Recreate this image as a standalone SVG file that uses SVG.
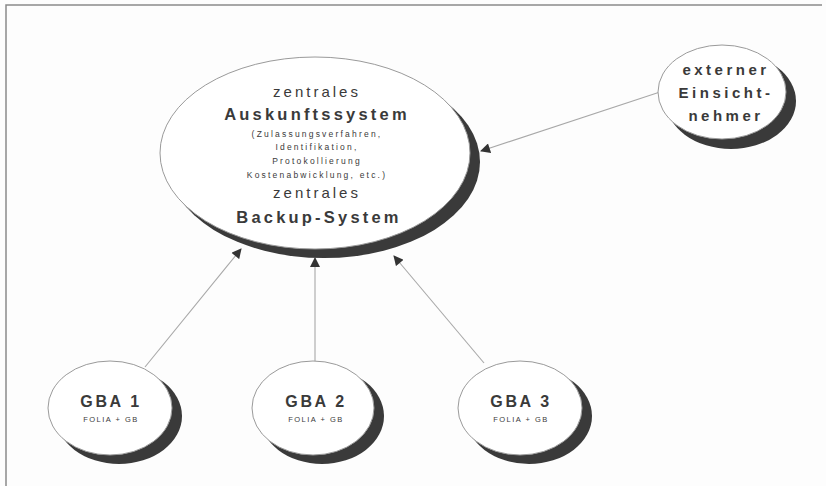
<svg xmlns="http://www.w3.org/2000/svg" width="826" height="486" viewBox="0 0 826 486">
  <defs>
    <marker id="arrow" viewBox="0 0 10 10" refX="9" refY="5" markerWidth="11" markerHeight="10" markerUnits="userSpaceOnUse" orient="auto">
      <path d="M0,0 L10,5 L0,10 z" fill="#333"/>
    </marker>
    <style>
      .shadow { fill: #3a3a3a; }
      .body { fill: #fff; stroke: #9a9a9a; stroke-width: 1; }
      .link { stroke: #a8a8a8; stroke-width: 1.1; fill: none; marker-end: url(#arrow); }
      text { font-family: "Liberation Sans", Arial, sans-serif; fill: #3a3a3a; text-anchor: middle; }
      .big { font-size: 16.5px; font-weight: bold; letter-spacing: 3.2px; }
      .mid { font-size: 15px; letter-spacing: 3px; }
      .small { font-size: 8.5px; letter-spacing: 2.2px; }
      .ext { font-size: 15px; font-weight: bold; letter-spacing: 3.5px; }
      .gba { font-size: 16px; font-weight: bold; letter-spacing: 2.6px; }
      .sub { font-size: 7.5px; letter-spacing: 1.5px; }
    </style>
  </defs>

  <rect width="826" height="486" fill="#fdfdfd"/>
  <!-- frame -->
  <path d="M6,486 L6,5 L822,5" fill="none" stroke="#8a8a8a" stroke-width="1.5"/>

  <g id="connectors">
    <line class="link" x1="145" y1="367" x2="241" y2="249"/>
    <line class="link" x1="315" y1="362" x2="315" y2="258"/>
    <line class="link" x1="484" y1="363" x2="394" y2="256"/>
    <line class="link" x1="660" y1="92" x2="481" y2="151"/>
  </g>

  <g id="zentrale">
    <ellipse class="shadow" cx="324" cy="162" rx="156" ry="96"/>
    <ellipse class="body" cx="315" cy="153" rx="155" ry="96"/>
    <text class="mid" x="317" y="97">zentrales</text>
    <text class="big" x="317" y="120">Auskunftssystem</text>
    <text class="small" x="317" y="137">(Zulassungsverfahren,</text>
    <text class="small" x="317" y="150">Identifikation,</text>
    <text class="small" x="317" y="164">Protokollierung</text>
    <text class="small" x="317" y="178">Kostenabwicklung, etc.)</text>
    <text class="mid" x="317" y="198">zentrales</text>
    <text class="big" x="319" y="223">Backup-System</text>
  </g>

  <g id="extern">
    <ellipse class="shadow" cx="731" cy="101" rx="65" ry="48"/>
    <ellipse class="body" cx="722" cy="92" rx="64" ry="47"/>
    <text class="ext" x="726" y="75">externer</text>
    <text class="ext" x="726" y="98">Einsicht-</text>
    <text class="ext" x="726" y="121">nehmer</text>
  </g>

  <g id="gba1">
    <ellipse class="shadow" cx="119" cy="416" rx="63" ry="48"/>
    <ellipse class="body" cx="110" cy="408" rx="62" ry="47"/>
    <text class="gba" x="111" y="407">GBA 1</text>
    <text class="sub" x="111" y="422">FOLIA + GB</text>
  </g>

  <g id="gba2">
    <ellipse class="shadow" cx="322" cy="416" rx="62" ry="48"/>
    <ellipse class="body" cx="313" cy="408" rx="61" ry="47"/>
    <text class="gba" x="316" y="407">GBA 2</text>
    <text class="sub" x="316" y="422">FOLIA + GB</text>
  </g>

  <g id="gba3">
    <ellipse class="shadow" cx="529" cy="416" rx="63" ry="48"/>
    <ellipse class="body" cx="520" cy="408" rx="62" ry="47"/>
    <text class="gba" x="521" y="407">GBA 3</text>
    <text class="sub" x="521" y="422">FOLIA + GB</text>
  </g>
</svg>
